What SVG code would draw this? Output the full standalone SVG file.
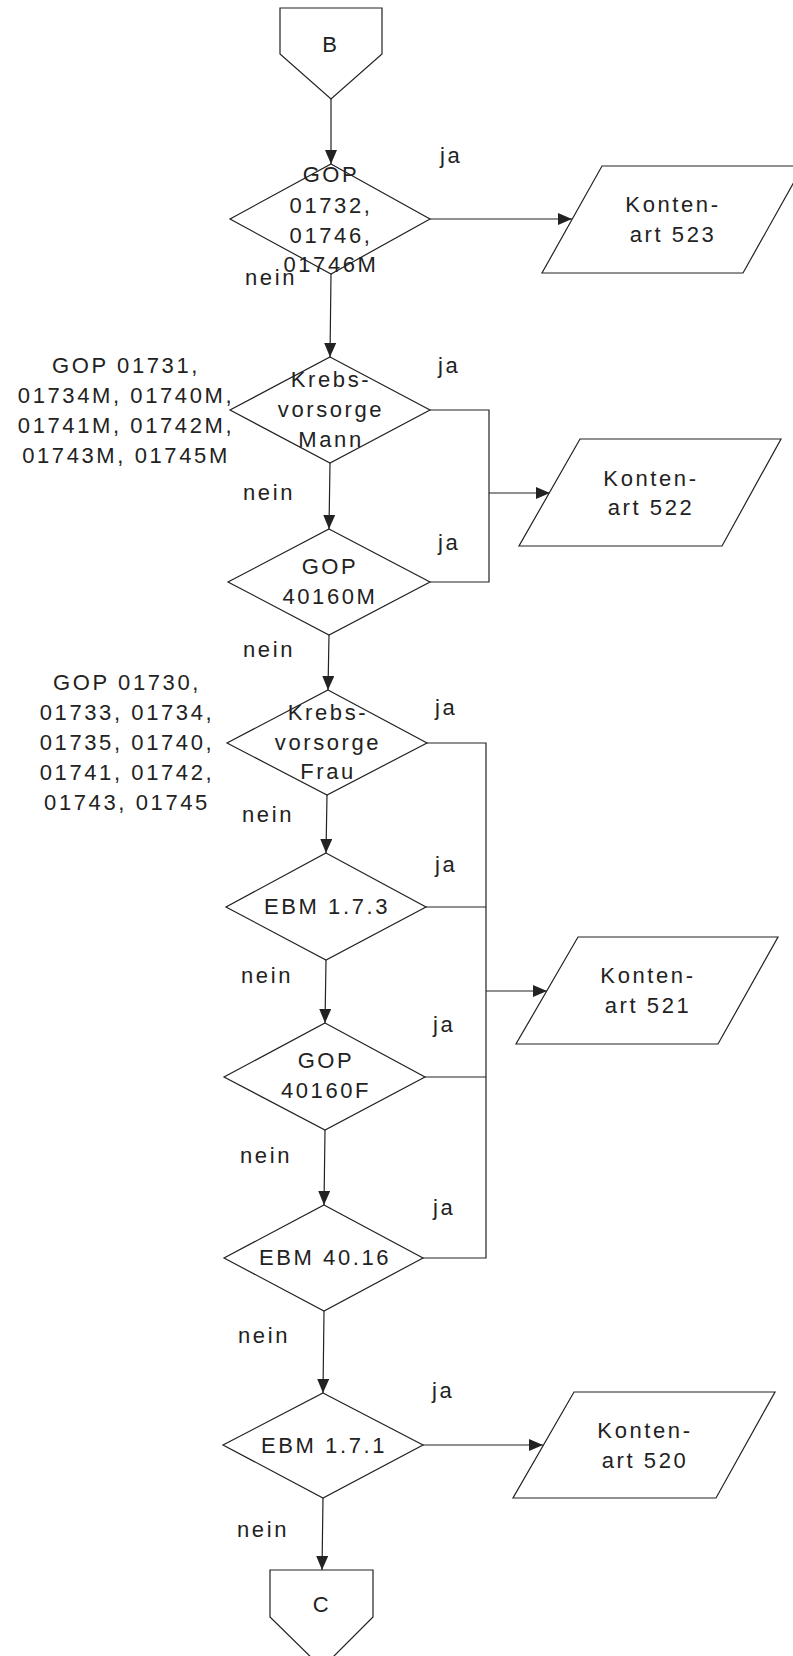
<svg xmlns="http://www.w3.org/2000/svg" width="793" height="1656" viewBox="0 0 793 1656">
<style>
.shape{fill:#fff;stroke:#222;stroke-width:1.2}
.conn{fill:none;stroke:#222;stroke-width:1.2}
text{font-family:"Liberation Sans",Arial,sans-serif;font-size:22px;fill:#222;letter-spacing:2.6px}
.c{text-anchor:middle}
</style>
<defs>
<marker id="arr" markerUnits="userSpaceOnUse" markerWidth="14" markerHeight="12" refX="14" refY="6" orient="auto">
<path d="M0,0 L14,6 L0,12 z" fill="#222"/>
</marker>
</defs>
<rect width="793" height="1656" fill="#fff"/>
<g id="connectors">
<path class="conn" d="M331,99 L331,164" marker-end="url(#arr)"/>
<path class="conn" d="M430,219 L572,219" marker-end="url(#arr)"/>
<path class="conn" d="M331,274 L330,357" marker-end="url(#arr)"/>
<path class="conn" d="M430,410 L489,410 L489,582 L430,582"/>
<path class="conn" d="M489,493 L550,493" marker-end="url(#arr)"/>
<path class="conn" d="M330,463 L329,529" marker-end="url(#arr)"/>
<path class="conn" d="M329,635 L328,690" marker-end="url(#arr)"/>
<path class="conn" d="M427,743 L486,743 L486,1258 L423,1258"/>
<path class="conn" d="M426,907 L486,907"/>
<path class="conn" d="M425,1077 L486,1077"/>
<path class="conn" d="M486,991 L547,991" marker-end="url(#arr)"/>
<path class="conn" d="M327,795 L326,853" marker-end="url(#arr)"/>
<path class="conn" d="M326,960 L325,1023" marker-end="url(#arr)"/>
<path class="conn" d="M325,1130 L324,1205" marker-end="url(#arr)"/>
<path class="conn" d="M324,1311 L323,1393" marker-end="url(#arr)"/>
<path class="conn" d="M423,1445 L543,1445" marker-end="url(#arr)"/>
<path class="conn" d="M323,1498 L322,1570" marker-end="url(#arr)"/>
</g>
<g id="B">
<polygon class="shape" points="280,8 382,8 382,54 331,99 280,54"/>
<text class="c" x="331" y="52">B</text>
</g>
<g id="d1">
<polygon class="shape" points="331,164 430,219 331,274 230,219"/>
<text class="c" x="331" y="182">GOP</text>
<text class="c" x="331" y="213">01732,</text>
<text class="c" x="331" y="243">01746,</text>
<text class="c" x="331" y="272">01746M</text>
</g>
<g id="k523">
<polygon class="shape" points="602,166 803,166 743,273 542,273"/>
<text class="c" x="673" y="212">Konten-</text>
<text class="c" x="673" y="242">art 523</text>
</g>
<g id="d2">
<polygon class="shape" points="330,357 430,410 330,463 230,410"/>
<text class="c" x="331" y="387">Krebs-</text>
<text class="c" x="331" y="417">vorsorge</text>
<text class="c" x="331" y="447">Mann</text>
</g>
<g id="note1">
<text class="c" x="126" y="373">GOP 01731,</text>
<text class="c" x="126" y="403">01734M, 01740M,</text>
<text class="c" x="126" y="433">01741M, 01742M,</text>
<text class="c" x="126" y="463">01743M, 01745M</text>
</g>
<g id="d3">
<polygon class="shape" points="329,529 430,582 329,635 228,582"/>
<text class="c" x="330" y="574">GOP</text>
<text class="c" x="330" y="604">40160M</text>
</g>
<g id="k522">
<polygon class="shape" points="580,439 781,439 722,546 519,546"/>
<text class="c" x="651" y="486">Konten-</text>
<text class="c" x="651" y="515">art 522</text>
</g>
<g id="d4">
<polygon class="shape" points="328,690 427,743 327,795 227,743"/>
<text class="c" x="328" y="720">Krebs-</text>
<text class="c" x="328" y="750">vorsorge</text>
<text class="c" x="328" y="779">Frau</text>
</g>
<g id="note2">
<text class="c" x="127" y="690">GOP 01730,</text>
<text class="c" x="127" y="720">01733, 01734,</text>
<text class="c" x="127" y="750">01735, 01740,</text>
<text class="c" x="127" y="780">01741, 01742,</text>
<text class="c" x="127" y="810">01743, 01745</text>
</g>
<g id="d5">
<polygon class="shape" points="326,853 426,907 326,960 226,907"/>
<text class="c" x="327" y="914">EBM 1.7.3</text>
</g>
<g id="k521">
<polygon class="shape" points="578,937 778,937 718,1044 516,1044"/>
<text class="c" x="648" y="983">Konten-</text>
<text class="c" x="648" y="1013">art 521</text>
</g>
<g id="d6">
<polygon class="shape" points="325,1023 425,1077 325,1130 224,1077"/>
<text class="c" x="326" y="1068">GOP</text>
<text class="c" x="326" y="1098">40160F</text>
</g>
<g id="d7">
<polygon class="shape" points="324,1205 423,1258 324,1311 224,1258"/>
<text class="c" x="325" y="1265">EBM 40.16</text>
</g>
<g id="d8">
<polygon class="shape" points="323,1393 423,1445 323,1498 223,1445"/>
<text class="c" x="324" y="1453">EBM 1.7.1</text>
</g>
<g id="k520">
<polygon class="shape" points="574,1392 775,1392 716,1498 513,1498"/>
<text class="c" x="645" y="1438">Konten-</text>
<text class="c" x="645" y="1468">art 520</text>
</g>
<g id="C">
<polygon class="shape" points="270,1570 373,1570 373,1617 322,1668 270,1617"/>
<text class="c" x="322" y="1612">C</text>
</g>
<g id="labels">
<text x="440" y="163">ja</text>
<text x="438" y="373">ja</text>
<text x="438" y="550">ja</text>
<text x="435" y="715">ja</text>
<text x="435" y="872">ja</text>
<text x="433" y="1032">ja</text>
<text x="433" y="1215">ja</text>
<text x="432" y="1398">ja</text>
<text x="245" y="285">nein</text>
<text x="243" y="500">nein</text>
<text x="243" y="657">nein</text>
<text x="242" y="822">nein</text>
<text x="241" y="983">nein</text>
<text x="240" y="1163">nein</text>
<text x="238" y="1343">nein</text>
<text x="237" y="1537">nein</text>
</g>
</svg>
